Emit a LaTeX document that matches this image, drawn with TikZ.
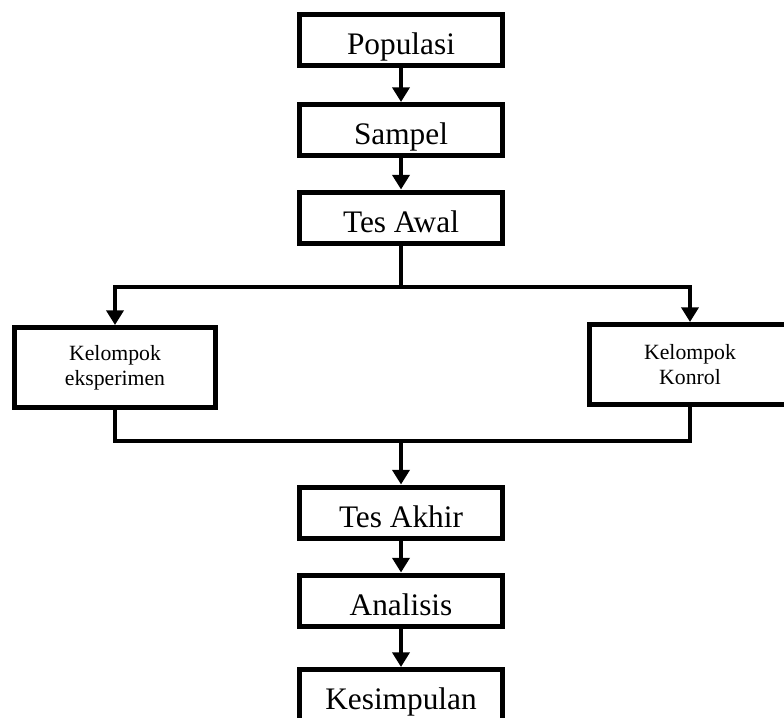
\documentclass[tikz,border=0pt]{standalone}
\usepackage{fontspec}
\setmainfont{Liberation Serif}
\usetikzlibrary{arrows.meta}

\begin{document}
\begin{tikzpicture}[x=0.75pt, y=-0.75pt,
    box/.style={draw, line width=3.75pt, rectangle, inner sep=0pt,
        minimum width=152.25pt, minimum height=38.25pt,
        text height=21.75pt, text depth=0pt,
        font=\fontsize{23.5}{28}\selectfont},
    group/.style={draw, line width=3.75pt, rectangle, inner sep=0pt,
        minimum width=150.75pt, minimum height=60pt, align=center,
        font=\fontsize{16.3}{19}\selectfont},
    arr/.style={line width=3.2pt, -{Triangle[width=12.75pt,length=11pt]}},
    link/.style={line width=3.2pt}]
\clip (0,0) rectangle (784,717);
\node[box] (populasi) at (401,40) {Populasi};
\node[box] (sampel) at (401,130) {Sampel};
\node[box] (awal) at (401,217.5) {Tes Awal};
\node[group] (eks) at (115,367.5) {Kelompok\\eksperimen};
\node[group] (kon) at (690,364.5) {Kelompok\\Konrol};
\node[box] (akhir) at (401,512.5) {Tes Akhir};
\node[box] (analisis) at (401,600.5) {Analisis};
\node[box] (simpul) at (401,695) {Kesimpulan};
\coordinate (split) at (401,287);
\coordinate (join) at (401,441);

\draw[arr] (populasi) -- (sampel);
\draw[arr] (sampel) -- (awal);
\draw[link] (awal.south) -- (split);
\draw[arr] (split) -| (eks.north);
\draw[arr] (split) -| (kon.north);
\draw[link] (eks.south) |- (join) -| (kon.south);
\draw[arr] (join) -- (akhir.north);
\draw[arr] (akhir) -- (analisis);
\draw[arr] (analisis) -- (simpul);
\end{tikzpicture}
\end{document}
